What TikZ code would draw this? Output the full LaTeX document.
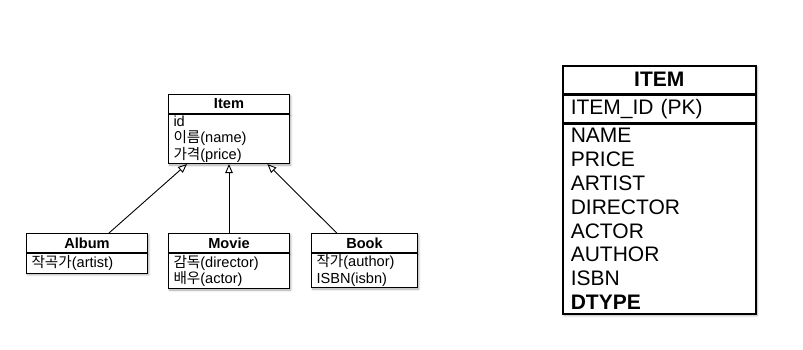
\documentclass[tikz,border=0pt]{standalone}
\usepackage{fontspec}
\setmainfont{Liberation Sans}
\newfontfamily\krfont{Noto Sans CJK KR}
\usepackage{tikz}
\usetikzlibrary{positioning,arrows.meta,shadows.blur}
\newcommand{\kr}[1]{{\krfont #1}}
\newcommand{\clsfont}{\fontsize{14.6}{16.7}\selectfont}
\newcommand{\tblfont}{\fontsize{21}{23.8}\selectfont}

\begin{document}
\begin{tikzpicture}[x=1pt,y=-1pt,every node/.style={font=\clsfont},
      shd/.style={blur shadow={shadow xshift=1.2pt,shadow yshift=-1.5pt,shadow blur steps=4,shadow opacity=35}},
      clsname/.style={draw,fill=white,line width=1pt,shd,inner sep=0pt,minimum height=19pt,font=\clsfont\bfseries},
      clsattr/.style={draw,fill=white,line width=1pt,shd,inner xsep=5pt,inner ysep=1pt,align=left},
      tblname/.style={draw,fill=white,line width=1.6pt,shd,inner sep=0pt,minimum width=193pt,minimum height=27.7pt,font=\tblfont\bfseries},
      tblcol/.style={draw,fill=white,line width=1.6pt,shd,inner xsep=8pt,inner ysep=0pt,text width=177pt,align=left,font=\tblfont},
      inh/.style={-{Triangle[open,length=9pt,width=7.5pt]},line width=.9pt}]
      \useasboundingbox (0,0) rectangle (803,350);
      % class diagram
      \node[clsname,minimum width=121pt,anchor=north west] (item) at (168,94) {Item};
      \node[clsattr,text width=111pt,minimum height=49pt,below=0pt of item] (itemA) {id\\\kr{이름}(name)\\\kr{가격}(price)};
      \node[clsname,minimum width=121pt,anchor=north west] (album) at (26,233) {Album};
      \node[clsattr,text width=111pt,minimum height=19.6pt,below=0pt of album] (albumA) {\kr{작곡가}(artist)};
      \node[clsname,minimum width=121pt,anchor=north west] (movie) at (168,233) {Movie};
      \node[clsattr,text width=111pt,minimum height=35pt,below=0pt of movie] (movieA) {\kr{감독}(director)\\\kr{배우}(actor)};
      \node[clsname,minimum width=106pt,anchor=north west] (book) at (311,233) {Book};
      \node[clsattr,text width=96pt,minimum height=34pt,below=0pt of book] (bookA) {\kr{작가}(author)\\ISBN(isbn)};
      \draw[inh] ([xshift=83pt]album.north west) -- ([xshift=19pt]itemA.south west);
      \draw[inh] (movie.north) -- (itemA.south);
      \draw[inh] ([xshift=25.7pt]book.north west) -- ([xshift=-22.6pt]itemA.south east);
      % single table
      \node[tblname,anchor=north west] (tbl) at (562,65) {ITEM};
      \node[tblcol,minimum height=27.3pt,below=0pt of tbl] (tblPk) {ITEM\_ID (PK)};
      \node[tblcol,minimum height=190pt,below=0pt of tblPk] (tblCols) {NAME\\PRICE\\ARTIST\\DIRECTOR\\ACTOR\\AUTHOR\\ISBN\\\textbf{DTYPE}};
    \end{tikzpicture}
\end{document}
